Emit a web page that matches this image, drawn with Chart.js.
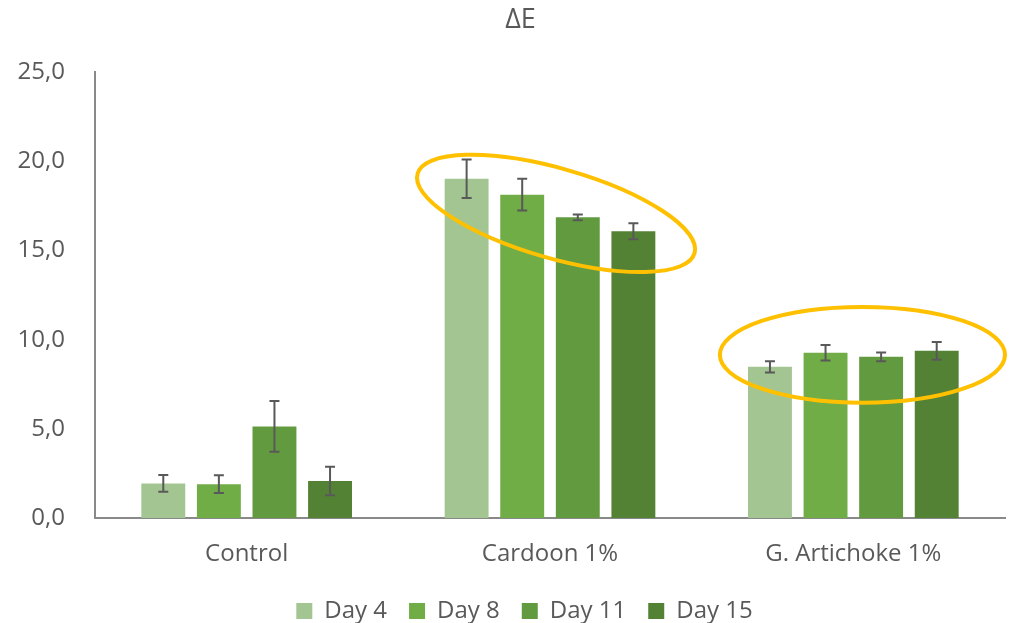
<!DOCTYPE html>
<html>
<head>
<meta charset="utf-8">
<script src="https://cdn.jsdelivr.net/npm/chart.js@4/dist/chart.umd.min.js"></script>
<style>
  body { margin: 0; background: #fff; }
  #wrap { width: 1013px; height: 623px; }
</style>
</head>
<body>
<div id="wrap"><canvas id="myChart" width="1013" height="623"></canvas></div>
<script>
// datos
const categories = ['Control', 'Cardoon 1%', 'G. Artichoke 1%'];
const seriesNames = ['Day 4', 'Day 8', 'Day 11', 'Day 15'];
const day4 = [1.94, 19.04, 8.48];
const day8 = [1.90, 18.14, 9.27];
const day11 = [5.14, 16.87, 9.04];
const day15 = [2.07, 16.09, 9.38];
const err4 = [0.47, 1.08, 0.32];
const err8 = [0.50, 0.89, 0.44];
const err11 = [1.43, 0.16, 0.24];
const err15 = [0.80, 0.45, 0.50];
const yTicks = [0, 5, 10, 15, 20, 25];

const colors = ['#A3C592', '#70AD47', '#629B3F', '#548235'];
const values = [day4, day8, day11, day15];
const errors = [err4, err8, err11, err15];
const grey = '#595959';
const font = "'Open Sans', sans-serif";

// barras de error
const errorBars = {
    id: 'errorBars',
    afterDatasetsDraw(chart) {
        const ctx = chart.ctx;
        const y = chart.scales.y;
        ctx.save();
        ctx.strokeStyle = grey;
        ctx.lineWidth = 2;
        chart.data.datasets.forEach(function(ds, i) {
            const meta = chart.getDatasetMeta(i);
            meta.data.forEach(function(bar, j) {
                const v = ds.data[j], e = ds.errors[j];
                const top = y.getPixelForValue(v + e);
                const bot = y.getPixelForValue(v - e);
                ctx.beginPath();
                ctx.moveTo(bar.x, top); ctx.lineTo(bar.x, bot);
                ctx.moveTo(bar.x - 5, top); ctx.lineTo(bar.x + 5, top);
                ctx.moveTo(bar.x - 5, bot); ctx.lineTo(bar.x + 5, bot);
                ctx.stroke();
            });
        });
        ctx.restore();
    }
};

// elipses amarillas
const highlights = {
    id: 'highlights',
    afterDraw(chart, args, opts) {
        const ctx = chart.ctx;
        const x = chart.scales.x, y = chart.scales.y;
        const catW = x.getPixelForValue(1) - x.getPixelForValue(0);
        ctx.save();
        ctx.strokeStyle = '#FFC000';
        ctx.lineWidth = 4;
        opts.items.forEach(function(h) {
            let sum = 0;
            values.forEach(function(s) { sum += s[h.index]; });
            const cx = x.getPixelForValue(h.index) + h.dx * catW;
            const cy = y.getPixelForValue(sum / values.length) + h.dy;
            ctx.beginPath();
            ctx.ellipse(cx, cy, h.rx * catW, h.ry * catW, h.angle * Math.PI / 180, 0, Math.PI * 2);
            ctx.stroke();
        });
        ctx.restore();
    }
};

// ajustes de posicion de titulo y leyenda
const layoutTweaks = {
    id: 'layoutTweaks',
    afterInit(chart) {
        const lg = chart.legend;
        const fit = lg.fit;
        lg.fit = function() {
            fit.call(this);
            this.height = 40;
        };
    },
    afterLayout(chart) {
        const t = chart.titleBlock;
        t.left += 11; t.right += 11;
        const lg = chart.legend;
        lg.left += 15; lg.right += 15;
        lg.top -= 6;
    }
};

new Chart(document.getElementById('myChart'), {
    type: 'bar',
    data: {
        labels: categories,
        datasets: seriesNames.map(function(name, i) {
            return {
                label: name,
                data: values[i],
                errors: errors[i],
                backgroundColor: colors[i],
                categoryPercentage: 0.733,
                barPercentage: 0.79
            };
        })
    },
    options: {
        responsive: false,
        animation: false,
        layout: { padding: { left: 14, right: 8, top: 0, bottom: 0 } },
        plugins: {
            title: {
                display: true,
                text: 'ΔE',
                color: grey,
                font: { family: font, size: 27, weight: 'normal' },
                padding: { top: 4, bottom: 36 }
            },
            legend: {
                position: 'bottom',
                labels: {
                    color: grey,
                    font: { family: font, size: 24 },
                    boxWidth: 16,
                    boxHeight: 16,
                    padding: 22
                }
            },
            tooltip: { enabled: false },
            highlights: {
                items: [
                    { index: 1, dx: 0.02, dy: 8, rx: 0.475, ry: 0.148, angle: 16 },
                    { index: 2, dx: 0.03, dy: -2, rx: 0.47, ry: 0.158, angle: 0 }
                ]
            }
        },
        scales: {
            x: {
                afterFit: function(scale) { scale.height = 65; },
                grid: { display: false },
                border: { display: true, color: '#898989', width: 2 },
                ticks: { color: grey, font: { family: font, size: 24 }, padding: 14 }
            },
            y: {
                min: 0,
                max: 25,
                afterFit: function(scale) { scale.width = 81; },
                afterBuildTicks: function(scale) {
                    scale.ticks = yTicks.map(function(v) { return { value: v }; });
                },
                grid: { display: false },
                border: { display: true, color: '#898989', width: 2 },
                ticks: {
                    color: grey,
                    font: { family: font, size: 24 },
                    padding: 22,
                    callback: function(v) { return v.toFixed(1).replace('.', ','); }
                }
            }
        }
    },
    plugins: [errorBars, highlights, layoutTweaks]
});
</script>
</body>
</html>
